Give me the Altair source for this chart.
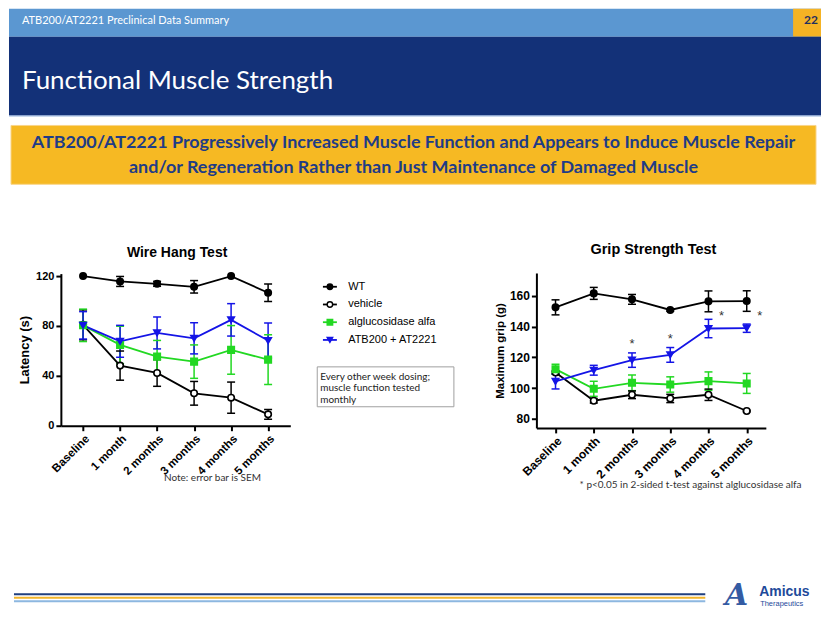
import altair as alt
import pandas as pd

W, H = 814, 600

TIMES = ["Baseline", "1 month", "2 months", "3 months", "4 months", "5 months"]
GROUPS = ["WT", "vehicle", "alglucosidase alfa", "ATB200 + AT2221"]
GROUP_COLORS = ["#000000", "#000000", "#22D822", "#1414E6"]
GROUP_FILLS = ["#000000", "#FFFFFF", "#22D822", "#1414E6"]
GROUP_SHAPES = ["circle", "circle", "square", "triangle-down"]

# Wire Hang Test: latency (s), mean and SEM
WH_WT = [120, 115.7, 113.8, 111.4, 120, 106.6]
WH_WT_SEM = [0, 4, 2, 5, 0, 7]
WH_VEH = [80.9, 48.2, 42.3, 26, 22.5, 9.1]
WH_VEH_SEM = [12, 11.7, 10.7, 9.5, 12.5, 4]
WH_ALG = [80.5, 64.8, 55.4, 51.4, 60.8, 53]
WH_ALG_SEM = [13, 15, 13, 13.4, 19.5, 20]
WH_ATB = [80.5, 67.7, 74.4, 70.1, 84.9, 68.3]
WH_ATB_SEM = [11, 12.8, 12.8, 12.5, 13, 14]

# Grip Strength Test: maximum grip (g), mean and SEM
GS_WT = [152.6, 161.7, 157.8, 150.9, 156.5, 156.7]
GS_WT_SEM = [4.9, 3.9, 3.2, 0.8, 6.8, 6.7]
GS_VEH = [110.1, 91.7, 95.6, 93.2, 95.6, 85]
GS_VEH_SEM = [1, 1.5, 2.5, 2.7, 3.7, 0.5]
GS_ALG = [112.3, 99.5, 103.4, 102.3, 104.5, 103]
GS_ALG_SEM = [3.2, 4.9, 5.1, 5, 6, 6.5]
GS_ATB = [104.3, 111.6, 118.2, 121.6, 138.8, 139]
GS_ATB_SEM = [4.9, 3.2, 4.7, 4.8, 6, 2.7]

STAR_TIMES = ["2 months", "3 months"]
STAR_VALUES = [131.6, 134.6]
STAR_TIMES_SHIFTED = ["4 months", "5 months"]
STAR_VALUES_SHIFTED = [149.8, 149.8]

HEADER = "ATB200/AT2221 Preclinical Data Summary"
PAGE = "22"
TITLE = "Functional Muscle Strength"
BANNER = ["ATB200/AT2221 Progressively Increased Muscle Function and Appears to Induce Muscle Repair",
          "and/or Regeneration Rather than Just Maintenance of Damaged Muscle"]
NOTE_LINES = ["Every other week dosing;", "muscle function tested", "monthly"]
SEM_NOTE = "Note: error bar is SEM"
P_NOTE = "* p<0.05 in 2-sided t-test against alglucosidase alfa"

ARIAL = "Liberation Sans"
CAL = "Lato"

one = pd.DataFrame({"k": [0]})


def box(x, x2, y, y2, fill, stroke=None):
    kw = dict(fill=fill)
    if stroke:
        kw.update(stroke=stroke, strokeWidth=1)
    return alt.Chart(one).mark_rect(**kw).encode(
        x=alt.value(x), x2=alt.value(x2), y=alt.value(y), y2=alt.value(y2))


def hline(x, x2, y, color, w):
    return alt.Chart(one).mark_rule(color=color, strokeWidth=w).encode(
        x=alt.value(x), x2=alt.value(x2), y=alt.value(y))


def label(text, x, y, **kw):
    return alt.Chart(one).mark_text(text=text, **kw).encode(x=alt.value(x), y=alt.value(y))


cs = alt.Scale(domain=GROUPS, range=GROUP_COLORS)
fs = alt.Scale(domain=GROUPS, range=GROUP_FILLS)
ss = alt.Scale(domain=GROUPS, range=GROUP_SHAPES)


def panel(series, xr, xpad, ydom, yr, yvals, ytitle, x_off, y_off, tick_fs, xlab_fs, ytitle_fs):
    rows = []
    for g, (vals, sems) in zip(GROUPS, series):
        for t, v, s in zip(TIMES, vals, sems):
            rows.append({"time": t, "group": g, "mean": v, "sem": s})
    df = pd.DataFrame(rows)
    xs = alt.Scale(type="point", domain=TIMES, range=xr, padding=xpad)
    ys = alt.Scale(domain=ydom, range=yr, nice=False, zero=False)
    base = alt.Chart(df).transform_calculate(
        lo="datum.mean - datum.sem", hi="datum.mean + datum.sem")
    ebase = base.transform_filter("datum.sem > 0")
    xenc = alt.X("time:O", scale=xs, axis=None)
    col = alt.Color("group:N", scale=cs, legend=None)
    err = ebase.mark_rule(strokeWidth=1.5).encode(
        x=xenc, y=alt.Y("lo:Q", scale=ys, axis=None), y2="hi:Q", color=col)
    cap_lo = ebase.mark_tick(thickness=1.5, size=8, opacity=1).encode(
        x=xenc, y=alt.Y("lo:Q", scale=ys, axis=None), color=col)
    cap_hi = ebase.mark_tick(thickness=1.5, size=8, opacity=1).encode(
        x=xenc, y=alt.Y("hi:Q", scale=ys, axis=None), color=col)
    common = dict(labelFont=ARIAL, labelFontWeight="bold", labelColor="black",
                  domainColor="black", domainWidth=2, tickColor="black", tickWidth=2,
                  tickSize=5, grid=False)
    xaxis = alt.Axis(title=None, orient="bottom", offset=x_off, labelAngle=-45,
                     labelFontSize=xlab_fs, labelPadding=2, **common)
    yaxis = alt.Axis(title=ytitle, orient="left", offset=y_off, values=yvals,
                     labelFontSize=tick_fs, labelPadding=2, titleFont=ARIAL,
                     titleFontWeight="bold", titleFontSize=ytitle_fs, titleColor="black",
                     titlePadding=4, **common)
    line = base.mark_line(strokeWidth=1.8).encode(
        x=alt.X("time:O", scale=xs, axis=xaxis),
        y=alt.Y("mean:Q", scale=ys, axis=yaxis), color=col)
    pts = base.mark_point(opacity=1, strokeWidth=1.6, size=42).encode(
        x=xenc, y=alt.Y("mean:Q", scale=ys, axis=None),
        stroke=alt.Stroke("group:N", scale=cs, legend=None),
        fill=alt.Fill("group:N", scale=fs, legend=None),
        shape=alt.Shape("group:N", scale=ss, legend=None))
    return [err, cap_lo, cap_hi, line, pts], xs, ys


wh_layers, _, _ = panel(
    [(WH_WT, WH_WT_SEM), (WH_VEH, WH_VEH_SEM), (WH_ALG, WH_ALG_SEM), (WH_ATB, WH_ATB_SEM)],
    xr=[52, 282], xpad=0.6, ydom=[0, 122], yr=[418, 265.5], yvals=[0, 40, 80, 120],
    ytitle="Latency (s)", x_off=418 - H, y_off=-52, tick_fs=11, xlab_fs=11.5, ytitle_fs=13)

gs_layers, gxs, gys = panel(
    [(GS_WT, GS_WT_SEM), (GS_VEH, GS_VEH_SEM), (GS_ALG, GS_ALG_SEM), (GS_ATB, GS_ATB_SEM)],
    xr=[528.7, 758.7], xpad=0.5, ydom=[74, 175], yr=[420.2, 264.9],
    yvals=[80, 100, 120, 140, 160], ytitle="Maximum grip (g)", x_off=420.2 - H,
    y_off=-528.7, tick_fs=12, xlab_fs=12, ytitle_fs=11.5)

stars = alt.Chart(pd.DataFrame({"time": STAR_TIMES, "v": STAR_VALUES})).mark_text(
    text="*", font=ARIAL, fontSize=13, color="#333333", baseline="middle", dy=4).encode(
    x=alt.X("time:O", scale=gxs, axis=None), y=alt.Y("v:Q", scale=gys, axis=None))
stars2 = alt.Chart(pd.DataFrame({"time": STAR_TIMES_SHIFTED, "v": STAR_VALUES_SHIFTED})).mark_text(
    text="*", font=ARIAL, fontSize=13, color="#333333", baseline="middle", dy=4, dx=13).encode(
    x=alt.X("time:O", scale=gxs, axis=None), y=alt.Y("v:Q", scale=gys, axis=None))

# legend
leg_df = pd.DataFrame({"group": GROUPS})
ly = alt.Y("group:N", scale=alt.Scale(type="point", domain=GROUPS, range=[278.7, 332], padding=0), axis=None)
leg_line = alt.Chart(leg_df).mark_rule(strokeWidth=1.8).encode(
    x=alt.value(314.7), x2=alt.value(328.7), y=ly, color=alt.Color("group:N", scale=cs, legend=None))
leg_pt = alt.Chart(leg_df).mark_point(opacity=1, strokeWidth=1.4, size=30).encode(
    x=alt.value(321.7), y=ly,
    stroke=alt.Stroke("group:N", scale=cs, legend=None),
    fill=alt.Fill("group:N", scale=fs, legend=None),
    shape=alt.Shape("group:N", scale=ss, legend=None))
leg_txt = alt.Chart(leg_df).mark_text(align="left", baseline="middle", font=ARIAL, fontSize=11,
                                      color="black").encode(x=alt.value(340), y=ly, text="group:N")

layers = [
    box(0, W, 0, 28, "#5B97D1"),
    box(786, W, 0, 28, "#F5B324"),
    box(0, W, 28, 107, "#133178"),
    hline(0, W, 107.5, "#8FB0DC", 1),
    box(2, 809, 117, 176, "#F6B923", stroke="#F9D58A"),
    label(HEADER, 13, 12, font=CAL, fontSize=11, color="white", align="left", baseline="middle"),
    label(PAGE, 804, 11, font=CAL, fontSize=12, fontWeight="bold", color="#1F2F5F",
          align="center", baseline="middle"),
    label(TITLE, 13, 72, font=CAL, fontSize=26, color="white", align="left", baseline="middle"),
    label(BANNER[0], 405.5, 135, font=CAL, fontSize=18, fontWeight="bold", color="#1F3C86",
          align="center", baseline="middle"),
    label(BANNER[1], 405.5, 160, font=CAL, fontSize=18, fontWeight="bold", color="#1F3C86",
          align="center", baseline="middle"),
    label("Wire Hang Test", 168.5, 245, font=ARIAL, fontSize=14, fontWeight="bold", color="black",
          align="center", baseline="middle"),
    label("Grip Strength Test", 646, 242, font=ARIAL, fontSize=14.5, fontWeight="bold", color="black",
          align="center", baseline="middle"),
] + wh_layers + gs_layers + [
    stars, stars2, leg_line, leg_pt, leg_txt,
    box(309, 446, 359, 399, "white", stroke="#A0A0A0"),
    label(NOTE_LINES, 312, 364, font=CAL, fontSize=10, lineHeight=11.5, color="#222222",
          align="left", baseline="top"),
    label(SEM_NOTE, 204, 470, font=CAL, fontSize=10, color="#333333", align="center", baseline="middle"),
    label(P_NOTE, 572, 477, font=CAL, fontSize=10, color="#333333", align="left", baseline="middle"),
    hline(5, 698, 587, "#1F3F7F", 2),
    hline(5, 698, 590.5, "#F2B42A", 2),
    hline(5, 698, 594, "#8DB7E0", 2),
    label("A", 729.5, 589, font="DejaVu Serif", fontSize=30, fontStyle="italic", fontWeight="bold",
          color="#1E4A9A", align="center", baseline="middle", opacity=0.9),
    label("Amicus", 752, 584.5, font=ARIAL, fontSize=14, fontWeight="bold", color="#1E4A9A",
          align="left", baseline="middle"),
    label("Therapeutics", 753, 596.5, font=ARIAL, fontSize=7.5, color="#1E4A9A",
          align="left", baseline="middle"),
]

chart = alt.layer(*layers).resolve_scale(
    x="independent", y="independent", color="independent", fill="independent",
    stroke="independent", shape="independent"
).properties(width=W, height=H, padding=0, background="white").configure_view(stroke=None)

chart.save("out.html", embed_options={"renderer": "svg", "actions": False})
